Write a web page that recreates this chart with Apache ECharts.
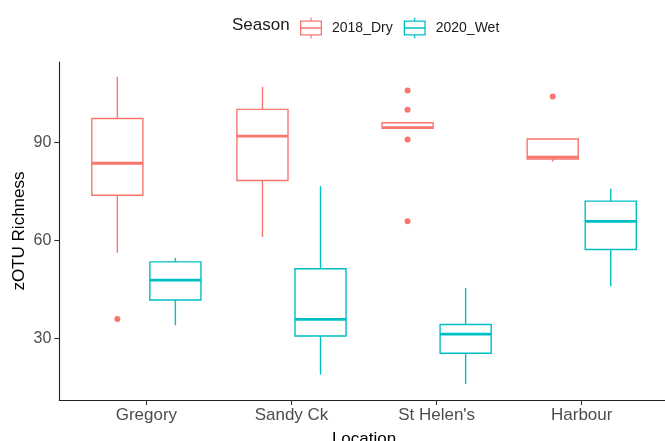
<!DOCTYPE html>
<html>
<head>
<meta charset="utf-8">
<script src="https://cdn.jsdelivr.net/npm/echarts@6/dist/echarts.min.js"></script>
<style>
html,body{margin:0;padding:0;background:#fff;}
#chart{width:665px;height:441px;}
</style>
</head>
<body>
<div id="chart"></div>
<script>
// ---- data ----
const categories = ['Gregory', 'Sandy Ck', "St Helen's", 'Harbour'];
const seriesNames = ['2018_Dry', '2020_Wet'];
// [min, Q1, median, Q3, max] per location
const dryStats = [
  [56.2, 73.8, 83.6, 97.3, 110.1],
  [61.0, 78.3, 91.9, 100.1, 107.0],
  [94.2, 94.3, 94.5, 96.0, 96.2],
  [84.1, 84.9, 85.5, 91.0, 91.0]
];
const wetStats = [
  [34.0, 41.7, 47.8, 53.4, 54.6],
  [18.9, 30.7, 35.8, 51.3, 76.6],
  [16.0, 25.4, 31.3, 34.2, 45.4],
  [45.9, 57.2, 65.8, 72.0, 75.8]
];
// outliers per location
const dryOutliers = [[35.9], [], [105.9, 100.0, 90.9, 65.8], [104.0]];
const wetOutliers = [[], [], [], []];
const yTicks = [30, 60, 90];

const colors = ['#F8766D', '#00BFC4'];
const DODGE = 0.2, BOXW = 0.352;
const FONT = 'Liberation Sans, Arial, Helvetica, sans-serif';

function boxData(stats){ return stats.map((s, i) => [i].concat(s)); }
function outData(outs){
  const d = [];
  outs.forEach((arr, i) => arr.forEach(v => d.push([i, v])));
  return d;
}
function boxRender(offset, color){
  return function(params, api){
    const x = api.value(0) + 1 + offset;
    const pMin = api.coord([x, api.value(1)]);
    const pQ1 = api.coord([x, api.value(2)]);
    const pMed = api.coord([x, api.value(3)]);
    const pQ3 = api.coord([x, api.value(4)]);
    const pMax = api.coord([x, api.value(5)]);
    const half = api.size([BOXW / 2, 0])[0];
    const cx = pMed[0];
    const ls = {stroke: color, lineWidth: 1.4, fill: null};
    return {type: 'group', children: [
      {type: 'line', shape: {x1: cx, y1: pQ3[1], x2: cx, y2: pMax[1]}, style: ls},
      {type: 'line', shape: {x1: cx, y1: pQ1[1], x2: cx, y2: pMin[1]}, style: ls},
      {type: 'rect', shape: {x: cx - half, y: pQ3[1], width: 2 * half, height: pQ1[1] - pQ3[1]},
        style: {stroke: color, lineWidth: 1.4, fill: '#fff'}},
      {type: 'line', shape: {x1: cx - half, y1: pMed[1], x2: cx + half, y2: pMed[1]},
        style: {stroke: color, lineWidth: 2.8}}
    ]};
  };
}
function outRender(offset, color){
  return function(params, api){
    const p = api.coord([api.value(0) + 1 + offset, api.value(1)]);
    return {type: 'circle', shape: {cx: p[0], cy: p[1], r: 3}, style: {fill: color}};
  };
}

const iconPath = 'path://M10.4,0H11.6V3H10.4Z M10.4,18H11.6V21H10.4Z M0,3H22V4.3H0Z M0,16.7H22V18H0Z M0,3H1.3V18H0Z M20.7,3H22V18H20.7Z M0,9.85H22V11.15H0Z';

const chart = echarts.init(document.getElementById('chart'), null, {renderer: 'canvas'});
chart.setOption({
  animation: false,
  color: colors,
  textStyle: {fontFamily: FONT},
  title: {
    text: 'Season', left: 227, top: 12,
    textStyle: {fontSize: 17, fontWeight: 'normal', color: '#1a1a1a', fontFamily: FONT}
  },
  legend: {
    data: seriesNames,
    left: 295, top: 12.5,
    itemWidth: 22, itemHeight: 21, itemGap: 11,
    icon: iconPath,
    textStyle: {fontSize: 14, color: '#1a1a1a', fontFamily: FONT, padding: [0, 0, 0, 5]}
  },
  grid: {left: 59.3, top: 62, width: 609.5, height: 338, outerBoundsMode: 'none', containLabel: false},
  xAxis: {
    type: 'value', min: 0.4, max: 4.6,
    name: 'Location', nameLocation: 'middle', nameGap: 31,
    nameTextStyle: {fontSize: 17, color: '#000', fontFamily: FONT},
    axisLine: {show: true, lineStyle: {color: '#222', width: 1.1}},
    axisTick: {show: true, customValues: [1, 2, 3, 4], length: 5, lineStyle: {color: '#333', width: 1.1}},
    axisLabel: {
      customValues: [1, 2, 3, 4], fontSize: 17, color: '#4d4d4d', margin: 7, fontFamily: FONT,
      formatter: v => categories[Math.round(v) - 1] || ''
    },
    splitLine: {show: false}
  },
  yAxis: {
    type: 'value', min: 11.1, max: 114.6,
    name: 'zOTU Richness', nameLocation: 'middle', nameGap: 31, nameRotate: 90,
    nameMoveOverlap: false,
    nameTextStyle: {fontSize: 17, color: '#000', fontFamily: FONT},
    axisLine: {show: true, lineStyle: {color: '#222', width: 1.1}},
    axisTick: {show: true, customValues: yTicks, length: 5, lineStyle: {color: '#333', width: 1.1}},
    axisLabel: {customValues: yTicks, fontSize: 16, color: '#4d4d4d', margin: 8, fontFamily: FONT},
    splitLine: {show: false}
  },
  series: [
    {name: seriesNames[0], type: 'custom', itemStyle: {color: colors[0]},
      renderItem: boxRender(-DODGE, colors[0]), data: boxData(dryStats), clip: false, z: 2},
    {name: seriesNames[1], type: 'custom', itemStyle: {color: colors[1]},
      renderItem: boxRender(DODGE, colors[1]), data: boxData(wetStats), clip: false, z: 2},
    {name: seriesNames[0], type: 'custom', itemStyle: {color: colors[0]},
      renderItem: outRender(-DODGE, colors[0]), data: outData(dryOutliers), z: 3},
    {name: seriesNames[1], type: 'custom', itemStyle: {color: colors[1]},
      renderItem: outRender(DODGE, colors[1]), data: outData(wetOutliers), z: 3}
  ]
});
</script>
</body>
</html>
